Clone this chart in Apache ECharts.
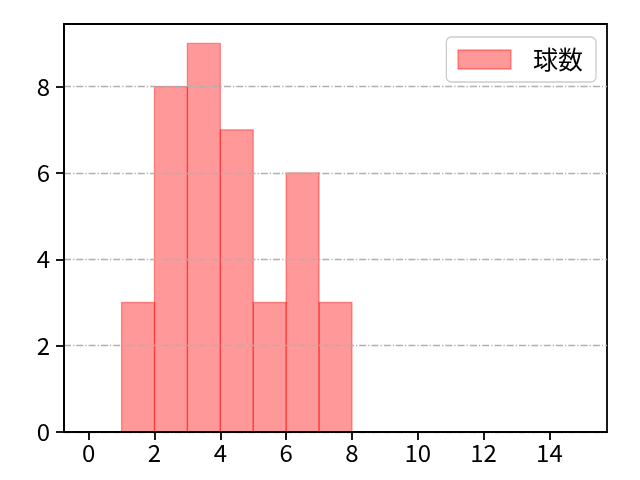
<!DOCTYPE html>
<html>
<head>
<meta charset="utf-8">
<script src="https://cdn.jsdelivr.net/npm/echarts@6/dist/echarts.min.js"></script>
<style>html,body{margin:0;padding:0;background:#fff;}#c{width:640px;height:480px;}</style>
</head>
<body>
<div id="c"></div>
<script>
var binStarts = [1, 2, 3, 4, 5, 6, 7];
var binEnds = [2, 3, 4, 5, 6, 7, 8];
var counts = [3, 8, 9, 7, 3, 6, 3];
var xTicks = [0, 2, 4, 6, 8, 10, 12, 14];
var yTicks = [0, 2, 4, 6, 8];
var seriesName = '球数';

var data = binStarts.map(function (s, i) { return [s, binEnds[i], counts[i]]; });
var FONT = '"Noto Sans CJK JP", "DejaVu Sans", sans-serif';
var chart = echarts.init(document.getElementById('c'));
chart.setOption({
  animation: false,
  backgroundColor: '#fff',
  grid: { left: 64, right: 33, top: 24, bottom: 48, show: true, borderColor: '#000', borderWidth: 1.8, backgroundColor: 'transparent' },
  legend: {
    right: 44, top: 37,
    padding: [10, 13, 10, 11],
    borderColor: '#cccccc', borderWidth: 1.3, borderRadius: 5,
    backgroundColor: 'rgba(255,255,255,0.8)',
    itemWidth: 53, itemHeight: 19,
    textStyle: { fontFamily: FONT, fontSize: 25, color: '#000', padding: [0, 0, 0, 17] },
    data: [{ name: seriesName, icon: 'rect', itemStyle: { color: 'rgba(255,0,0,0.4)', borderColor: 'rgba(255,0,0,0.4)', borderWidth: 1.3 } }]
  },
  xAxis: {
    type: 'value', min: -0.75, max: 15.75, z: 6,
    axisLine: { show: true, onZero: false, lineStyle: { color: '#000', width: 1.8 } },
    axisTick: { show: true, length: 8, lineStyle: { color: '#000', width: 1.8 }, customValues: xTicks },
    axisLabel: { customValues: xTicks, fontFamily: FONT, fontSize: 24, color: '#000', margin: 9 },
    splitLine: { show: false }
  },
  yAxis: {
    type: 'value', min: 0, max: 9.45, interval: 2, z: 5,
    axisLine: { show: true, onZero: false, lineStyle: { color: '#000', width: 1.8 } },
    axisTick: { show: true, length: 8, lineStyle: { color: '#000', width: 1.8 }, customValues: yTicks },
    axisLabel: { customValues: yTicks, fontFamily: FONT, fontSize: 24, color: '#000', margin: 14 },
    splitLine: { show: true, lineStyle: { color: '#b0b0b0', width: 1.3, type: [7, 2, 1.3, 2] } }
  },
  series: [{
    name: seriesName, type: 'custom', z: 1,
    itemStyle: { color: 'rgba(255,0,0,0.4)' },
    encode: { x: [0, 1], y: 2 },
    data: data,
    renderItem: function (params, api) {
      var p0 = api.coord([api.value(0), api.value(2)]);
      var p1 = api.coord([api.value(1), 0]);
      return {
        type: 'rect',
        shape: { x: p0[0], y: p0[1], width: p1[0] - p0[0], height: p1[1] - p0[1] },
        style: { fill: 'rgba(255,0,0,0.4)', stroke: 'rgba(255,0,0,0.4)', lineWidth: 1.3 }
      };
    }
  }]
});
</script>
</body>
</html>
